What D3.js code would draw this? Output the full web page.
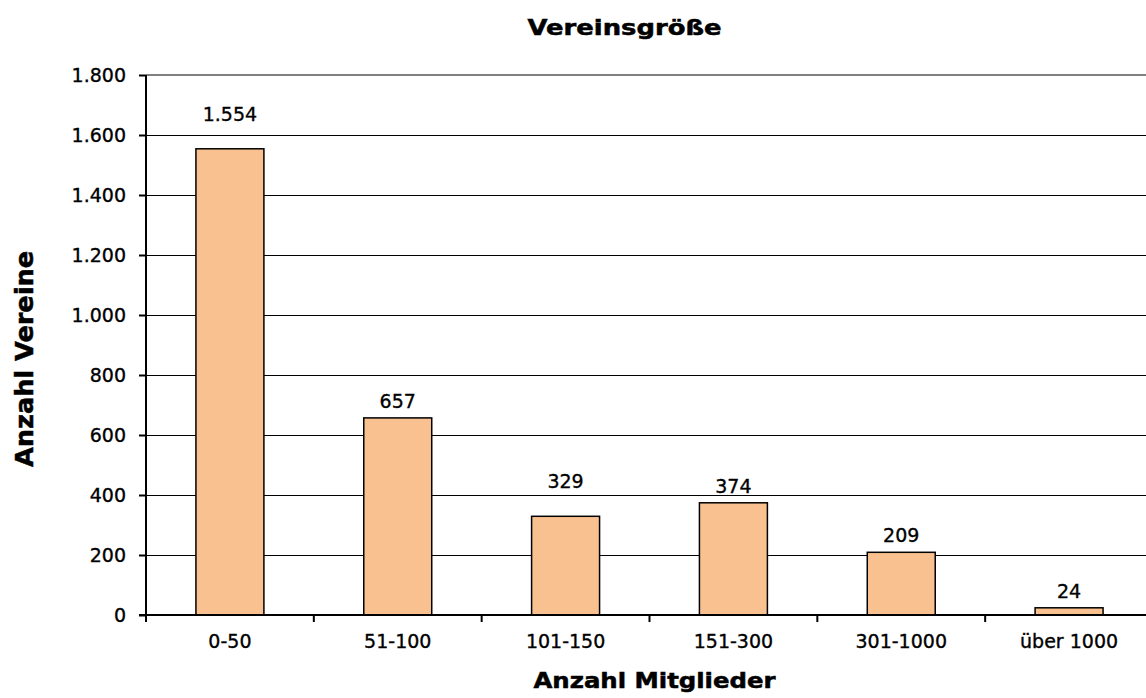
<!DOCTYPE html>
<html><head><meta charset="utf-8">
<script src="https://cdn.jsdelivr.net/npm/d3@7"></script>
<style>
body{margin:0;background:#fff;}
text{font-family:"DejaVu Sans",Verdana,sans-serif;fill:#000;}
.num{stroke:#000;stroke-width:0.35px;}
.ttl{stroke:#000;stroke-width:0.5px;}
</style></head>
<body><svg id="c" width="1146" height="698"></svg>
<script>
const categories = ["0-50","51-100","101-150","151-300","301-1000","über 1000"];
const values = [1554, 657, 329, 374, 209, 24];
const valueLabels = ["1.554","657","329","374","209","24"];
const yTicks = [0,200,400,600,800,1000,1200,1400,1600,1800];
const yTickLabels = ["0","200","400","600","800","1.000","1.200","1.400","1.600","1.800"];
const titleText = "Vereinsgröße";
const xTitle = "Anzahl Mitglieder";
const yTitle = "Anzahl Vereine";

// label nudges (layout only)
const labelNudge = {"0-50":-18, "101-150":-18};

const svg = d3.select("#c");
const L = 146, R = 1153, T = 75, B = 615;
const x = d3.scaleBand().domain(categories).range([L, R]).paddingInner(0.595).paddingOuter(0.2975);
const y = d3.scaleLinear().domain([0,1800]).range([B, T]);

// gridlines
svg.append("g").selectAll("line").data(yTicks.filter(v=>v>0 && v<1800)).join("line")
  .attr("x1", L).attr("x2", 1146).attr("y1", d=>y(d)).attr("y2", d=>y(d))
  .attr("stroke","#000").attr("stroke-width",1).attr("shape-rendering","crispEdges");
// top border
svg.append("line").attr("x1",L).attr("x2",1146).attr("y1",y(1800)).attr("y2",y(1800))
  .attr("stroke","#808080").attr("stroke-width",2);

// bars
svg.append("g").selectAll("rect").data(categories).join("rect")
  .attr("x", d=>x(d)).attr("width", x.bandwidth())
  .attr("y", (d,i)=>y(values[i])).attr("height", (d,i)=>y(0)-y(values[i]))
  .attr("fill","#F9C18F").attr("stroke","#000").attr("stroke-width",1.5);

// value labels
svg.append("g").selectAll("text").data(categories).join("text").attr("class","num")
  .attr("x", d=>x(d)+x.bandwidth()/2)
  .attr("y", (d,i)=>y(values[i]) - 10 + (labelNudge[d]||0))
  .attr("text-anchor","middle").attr("font-size",19)
  .text((d,i)=>valueLabels[i]);

// y axis
const yAxis = d3.axisLeft(y).tickValues(yTicks).tickSize(7).tickPadding(13)
  .tickFormat((d,i)=>yTickLabels[i]);
const gy = svg.append("g").attr("transform",`translate(${L},0)`).call(yAxis);
gy.select(".domain").attr("stroke","#000").attr("stroke-width",2).attr("d",`M0,${T}V${B}`);
gy.selectAll(".tick line").attr("stroke","#000").attr("stroke-width",2);
gy.selectAll(".tick text").attr("class","num").attr("font-size",19).attr("fill","#000").attr("font-family","DejaVu Sans").attr("dy","0.35em");

// x axis
const gx = svg.append("g").attr("transform",`translate(0,${B})`);
gx.append("line").attr("x1",L-7).attr("x2",1146).attr("y1",0).attr("y2",0).attr("stroke","#000").attr("stroke-width",2);
const bounds = categories.map(c=>x(c)-x.step()*x.paddingInner()/2);
gx.selectAll(".xt").data(bounds).join("line").attr("class","xt")
  .attr("x1",d=>d).attr("x2",d=>d).attr("y1",0).attr("y2",7).attr("stroke","#000").attr("stroke-width",2);
gx.selectAll(".xl").data(categories).join("text").attr("class","xl num")
  .attr("x",d=>x(d)+x.bandwidth()/2).attr("y",33)
  .attr("text-anchor","middle").attr("font-size",19).text(d=>d);

// titles
svg.append("text").attr("class","ttl").attr("x",624.5).attr("y",35).attr("text-anchor","middle")
  .attr("font-size",21).attr("font-weight","bold")
  .attr("textLength",194).attr("lengthAdjust","spacingAndGlyphs").text(titleText);
svg.append("text").attr("class","ttl").attr("x",654.5).attr("y",688).attr("text-anchor","middle")
  .attr("font-size",21).attr("font-weight","bold")
  .attr("textLength",242).attr("lengthAdjust","spacingAndGlyphs").text(xTitle);
svg.append("text").attr("class","ttl").attr("transform","translate(33,359) rotate(-90)").attr("text-anchor","middle")
  .attr("font-size",24).attr("font-weight","bold")
  .attr("textLength",216).attr("lengthAdjust","spacingAndGlyphs").text(yTitle);
</script>
</body></html>
